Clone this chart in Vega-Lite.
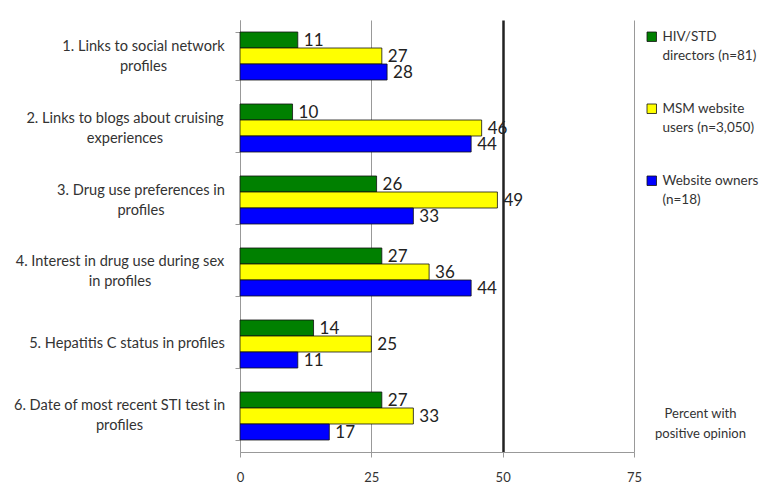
{
  "$schema": "https://vega.github.io/schema/vega-lite/v6.json",
  "width": 394,
  "height": 432,
  "autosize": {"type": "none"},
  "padding": {"left": 240, "top": 20, "right": 134, "bottom": 37},
  "config": {"view": {"stroke": null}, "font": "Lato"},
  "data": {
    "values": [
      {"item": "1. Links to social network profiles", "group": "HIV/STD directors (n=81)", "pct": 11},
      {"item": "1. Links to social network profiles", "group": "MSM website users (n=3,050)", "pct": 27},
      {"item": "1. Links to social network profiles", "group": "Website owners (n=18)", "pct": 28},
      {"item": "2. Links to blogs about cruising experiences", "group": "HIV/STD directors (n=81)", "pct": 10},
      {"item": "2. Links to blogs about cruising experiences", "group": "MSM website users (n=3,050)", "pct": 46},
      {"item": "2. Links to blogs about cruising experiences", "group": "Website owners (n=18)", "pct": 44},
      {"item": "3. Drug use preferences in profiles", "group": "HIV/STD directors (n=81)", "pct": 26},
      {"item": "3. Drug use preferences in profiles", "group": "MSM website users (n=3,050)", "pct": 49},
      {"item": "3. Drug use preferences in profiles", "group": "Website owners (n=18)", "pct": 33},
      {"item": "4. Interest in drug use during sex in profiles", "group": "HIV/STD directors (n=81)", "pct": 27},
      {"item": "4. Interest in drug use during sex in profiles", "group": "MSM website users (n=3,050)", "pct": 36},
      {"item": "4. Interest in drug use during sex in profiles", "group": "Website owners (n=18)", "pct": 44},
      {"item": "5. Hepatitis C status in profiles", "group": "HIV/STD directors (n=81)", "pct": 14},
      {"item": "5. Hepatitis C status in profiles", "group": "MSM website users (n=3,050)", "pct": 25},
      {"item": "5. Hepatitis C status in profiles", "group": "Website owners (n=18)", "pct": 11},
      {"item": "6. Date of most recent STI test in profiles", "group": "HIV/STD directors (n=81)", "pct": 27},
      {"item": "6. Date of most recent STI test in profiles", "group": "MSM website users (n=3,050)", "pct": 33},
      {"item": "6. Date of most recent STI test in profiles", "group": "Website owners (n=18)", "pct": 17}
    ]
  },
  "encoding": {
    "y": {
      "field": "item",
      "type": "nominal",
      "sort": null,
      "scale": {"paddingInner": 0.3333, "paddingOuter": 0.16667},
      "axis": {
        "title": null,
        "domainColor": "#999999",
        "tickColor": "#999999",
        "tickSize": 5,
        "tickBand": "extent",
        "labelFontSize": 14.6,
        "labelColor": "#333333",
        "labelLineHeight": 20,
        "labelLimit": 240,
        "labelAlign": "center",
        "labelPadding": {
          "condition": [
            {"test": "datum.value === '1. Links to social network profiles'", "value": 92},
            {"test": "datum.value === '2. Links to blogs about cruising experiences'", "value": 110.5},
            {"test": "datum.value === '3. Drug use preferences in profiles'", "value": 94.5},
            {"test": "datum.value === '4. Interest in drug use during sex in profiles'", "value": 115.5},
            {"test": "datum.value === '5. Hepatitis C status in profiles'", "value": 108.5}
          ],
          "value": 116
        },
        "labelOffset": {
          "condition": {"test": "datum.value === '5. Hepatitis C status in profiles'", "value": 0},
          "value": -10
        },
        "labelExpr": "{'1. Links to social network profiles': ['1. Links to social network', 'profiles'], '2. Links to blogs about cruising experiences': ['2. Links to blogs about cruising', 'experiences'], '3. Drug use preferences in profiles': ['3. Drug use preferences in', 'profiles'], '4. Interest in drug use during sex in profiles': ['4. Interest in drug use during sex', 'in profiles'], '5. Hepatitis C status in profiles': '5. Hepatitis C status in profiles', '6. Date of most recent STI test in profiles': ['6. Date of most recent STI test in', 'profiles']}[datum.label]"
      }
    },
    "yOffset": {"field": "group", "type": "nominal", "scale": {"paddingInner": 0, "paddingOuter": 0}},
    "x": {
      "field": "pct",
      "type": "quantitative",
      "scale": {"domain": [0, 75], "nice": false},
      "axis": {
        "values": [0, 25, 50, 75],
        "domainColor": "#999999",
        "tickColor": "#999999",
        "tickSize": 5,
        "labelPadding": 14,
        "labelFlush": false,
        "labelFontSize": 13,
        "labelColor": "#333333",
        "grid": true,
        "gridColor": {"condition": {"test": "datum.value === 50", "value": "#222222"}, "value": "#999999"},
        "gridWidth": {"condition": {"test": "datum.value === 50", "value": 2.5}, "value": 1},
        "title": ["Percent with", "positive opinion"],
        "titleX": 460,
        "titleY": -45,
        "titleAlign": "center",
        "titleBaseline": "top",
        "titleFontSize": 13,
        "titleFontWeight": "normal",
        "titleColor": "#333333",
        "titleLineHeight": 20
      }
    }
  },
  "layer": [
    {
      "mark": {"type": "bar", "stroke": "#111111", "strokeWidth": 0.8},
      "encoding": {
        "color": {
          "field": "group",
          "type": "nominal",
          "scale": {"range": ["#008000", "#FFFF00", "#0000FF"]},
          "legend": {
            "title": null,
            "orient": "none",
            "legendX": 405,
            "legendY": 10,
            "symbolType": "square",
            "symbolSize": 90,
            "symbolStrokeColor": "#111111",
            "symbolStrokeWidth": 0.8,
            "labelFontSize": 13.5,
            "labelColor": "#333333",
            "labelOffset": 4,
            "rowPadding": 57,
            "labelExpr": "{'HIV/STD directors (n=81)': 'HIV/STD', 'MSM website users (n=3,050)': 'MSM website', 'Website owners (n=18)': 'Website owners'}[datum.label]"
          }
        }
      }
    },
    {
      "transform": [
        {
          "lookup": "group",
          "from": {
            "data": {
              "values": [
                {"group": "HIV/STD directors (n=81)", "sample": "directors (n=81)"},
                {"group": "MSM website users (n=3,050)", "sample": "users (n=3,050)"},
                {"group": "Website owners (n=18)", "sample": "(n=18)"}
              ]
            },
            "key": "group",
            "fields": ["sample"]
          }
        }
      ],
      "mark": {"type": "text", "align": "left", "baseline": "middle", "dx": 6, "dy": 1, "fontSize": 17, "color": "#222222"},
      "encoding": {
        "text": {"field": "pct", "type": "quantitative"},
        "opacity": {
          "field": "sample",
          "type": "nominal",
          "scale": {"domain": ["directors (n=81)", "users (n=3,050)", "(n=18)"], "range": [1, 1, 1]},
          "legend": {
            "title": null,
            "orient": "none",
            "legendX": 405,
            "legendY": 29,
            "symbolType": "M0,0",
            "symbolSize": 90,
            "symbolStrokeWidth": 0,
            "labelFontSize": 13.5,
            "labelColor": "#333333",
            "labelOffset": 4,
            "rowPadding": 57
          }
        }
      }
    }
  ]
}
